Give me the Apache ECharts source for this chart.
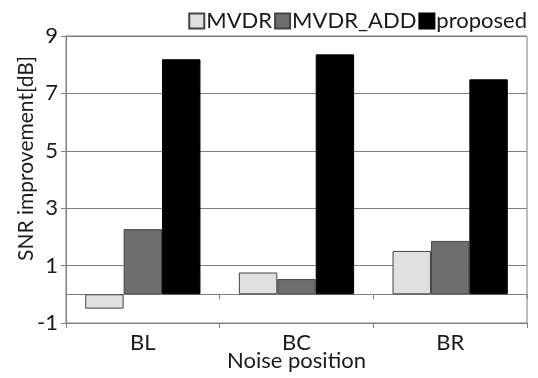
<!DOCTYPE html>
<html>
<head>
<meta charset="utf-8">
<script src="https://cdn.jsdelivr.net/npm/echarts@6/dist/echarts.min.js"></script>
<style>html,body{margin:0;padding:0;background:#fff;}#c{width:538px;height:378px;}</style>
</head>
<body>
<div id="c"></div>
<script>
const categories = ['BL', 'BC', 'BR'];
const seriesNames = ['MVDR', 'MVDR_ADD', 'proposed'];
const mvdr = [-0.5, 0.76, 1.51];
const mvdrAdd = [2.27, 0.53, 1.86];
const proposed = [8.19, 8.36, 7.49];
const yTicks = { min: -1, max: 9, interval: 2 };
const yName = 'SNR improvement[dB]';
const xName = 'Noise position';

const FONT = 'Lato, "Open Sans", sans-serif';
const gridColor = '#7f7f7f';
const textColor = '#1a1a1a';
const colors = ['#e0e0e0', '#6e6e6e', '#000000'];
const values = [mvdr, mvdrAdd, proposed];

const chart = echarts.init(document.getElementById('c'), null, { renderer: 'canvas' });
chart.setOption({
  animation: false,
  backgroundColor: '#ffffff',
  textStyle: { fontFamily: FONT },
  legend: {
    right: 6, top: 5,
    itemWidth: 15, itemHeight: 15, itemGap: 2,
    icon: 'rect',
    textStyle: { fontSize: 22, color: textColor, fontFamily: FONT, padding: [0, 0, 0, -3] },
    data: seriesNames
  },
  grid: {
    left: 66, right: 11, top: 36, bottom: 55,
    outerBoundsMode: 'none', containLabel: false,
    show: true, borderColor: gridColor, borderWidth: 1, backgroundColor: 'transparent'
  },
  xAxis: [
    {
      type: 'category', data: categories, position: 'bottom',
      axisLine: { onZero: false, lineStyle: { color: gridColor } },
      axisTick: { show: true, length: 5, lineStyle: { color: gridColor } },
      axisLabel: { fontSize: 22, color: textColor, margin: 9 },
      name: xName, nameLocation: 'middle', nameGap: 27, nameMoveOverlap: false,
      nameTextStyle: { fontSize: 22, color: textColor }
    },
    {
      type: 'category', data: categories, position: 'bottom',
      axisLine: { onZero: true, lineStyle: { color: gridColor } },
      axisTick: { show: true, length: 5, lineStyle: { color: gridColor } },
      axisLabel: { show: false }
    }
  ],
  yAxis: {
    type: 'value', min: yTicks.min, max: yTicks.max, interval: yTicks.interval,
    axisLine: { show: true, lineStyle: { color: gridColor } },
    axisTick: { show: true, length: 5, lineStyle: { color: gridColor } },
    splitLine: { show: true, lineStyle: { color: gridColor, width: 1 } },
    axisLabel: { fontSize: 22, color: textColor, margin: 8 },
    name: yName, nameLocation: 'middle', nameGap: 29, nameMoveOverlap: false,
    nameTextStyle: { fontSize: 21, color: textColor, padding: [0, 0, 0, 42] }
  },
  series: seriesNames.map((n, i) => ({
    name: n, type: 'bar', data: values[i], xAxisIndex: 0,
    barGap: '0%', barCategoryGap: '25%',
    itemStyle: { color: colors[i], borderColor: i === 2 ? '#000' : '#444', borderWidth: 1 }
  }))
});
</script>
</body>
</html>
